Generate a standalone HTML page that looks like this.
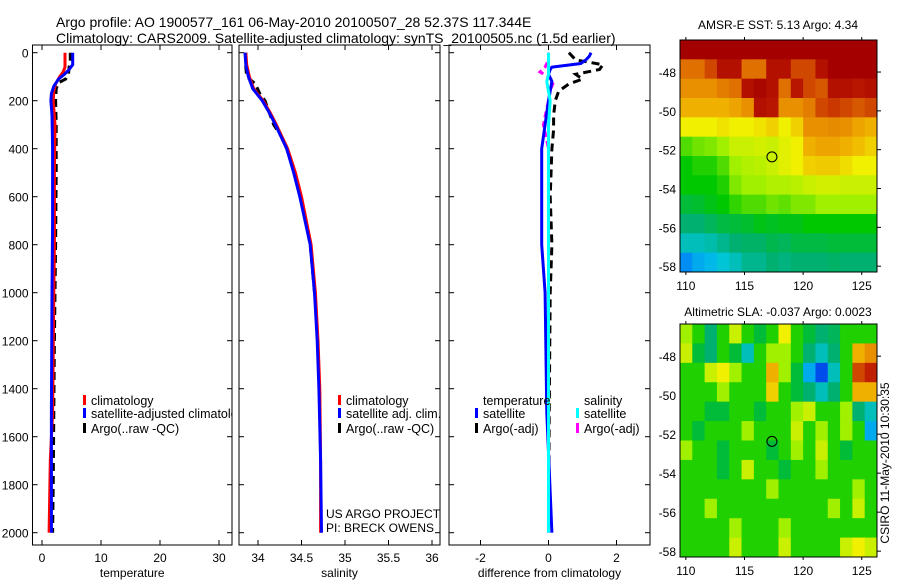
<!DOCTYPE html>
<html><head><meta charset="utf-8">
<style>
html,body{margin:0;padding:0;background:#fff;}
svg{display:block;font-family:"Liberation Sans",sans-serif;}
text{fill:#000;}
</style></head>
<body>
<svg id="fig" width="900" height="580" viewBox="0 0 900 580">
<text x="56" y="27" font-size="14">Argo profile: AO 1900577_161 06-May-2010 20100507_28 52.37S 117.344E</text>
<text x="56" y="43" font-size="14">Climatology: CARS2009. Satellite-adjusted climatology: synTS_20100505.nc (1.5d earlier)</text>
<text x="778" y="29" font-size="12" text-anchor="middle">AMSR-E SST: 5.13 Argo: 4.34</text>
<text x="778" y="316" font-size="12" text-anchor="middle">Altimetric SLA: -0.037 Argo: 0.0023</text>
<text transform="translate(889,463) rotate(-90)" font-size="12" text-anchor="middle">CSIRO 11-May-2010 10:30:35</text>
<g id="g"></g>
</svg>
<script>
// ---------- data ----------
const depthTicks=[0,200,400,600,800,1000,1200,1400,1600,1800,2000];
const tempTicks=[0,10,20,30];
const salTicks=[34,34.5,35,35.5,36];
const salTickLabels=["34","34.5","35","35.5","36"];
const diffTicks=[-2,0,2];
const latTicks=[-48,-50,-52,-54,-56,-58];
const lonTicks=[110,115,120,125];

const climDepth=[0,20,60,80,100,130,160,200,300,500,800,1000,1500,1700,2000];
const climTemp=[3.9,3.9,3.9,3.6,3.0,2.3,2.0,1.9,2.2,2.1,2.1,2.0,1.8,1.4,1.2];
const satDepth=[0,20,50,70,90,110,140,170,200,260,400,700,1000,1500,2000];
const satTemp=[5.2,5.2,5.2,4.6,3.8,2.8,2.0,1.6,1.5,1.7,1.8,1.8,1.7,1.6,1.6];
const argoDepth=[0,30,60,90,110,125,150,200,300,500,800,1000,1200,1500,1800,2000];
const argoTemp=[4.8,4.8,4.6,4.5,4.0,2.8,2.4,2.3,2.4,2.4,2.3,2.2,2.1,2.0,1.9,1.8];

const salDepth=[0,50,100,150,200,250,300,400,500,600,800,1000,1200,1400,1700,2000];
const climSal=[33.86,33.87,33.9,33.95,34.06,34.14,34.21,34.34,34.43,34.5,34.61,34.66,34.69,34.71,34.72,34.72];
const satSal=[33.85,33.86,33.89,33.94,34.05,34.13,34.2,34.33,34.41,34.48,34.6,34.65,34.68,34.7,34.72,34.73];
const argoSalDepth=[0,60,100,130,170,200,250,300,350,400,500,600,800,1000];
const argoSal=[33.86,33.86,33.87,33.97,34.02,34.08,34.13,34.18,34.27,34.33,34.42,34.49,34.6,34.65];

const diffDepth=[0,15,30,45,60,70,90,120,200,300,400,600,800,1000,1500,2000];
const satTempDiff=[1.25,1.2,1.1,0.95,0.1,0.05,0.0,0.1,0.0,-0.1,-0.2,-0.2,-0.2,-0.1,-0.05,0.1];
const satSalDiff=[0.0,0.0,0.0,0.0,0.0,0.0,0.0,-0.05,0.05,0.0,0.0,0.0,0.0,0.0,0.0,0.0];
const argoDiffDepth=[0,15,30,50,70,90,110,130,160,200,260,320,400,600,800,1000,1500,2000];
const argoTempDiff=[0.6,0.7,0.8,1.6,1.5,0.8,1.0,0.6,0.3,0.2,0.15,0.15,0.1,0.05,0.1,0.05,0.02,0.0];
const argoSalDiffDepth=[0,30,60,80,100,120,160,200,300,400,600,1000,2000];
const argoSalDiff=[0.0,0.0,-0.1,-0.25,0.0,0.15,0.05,0.0,-0.15,0.0,0.0,0.0,0.0];

const sstGrid=[
[10,10,10,10,10,10,10,10,10,10,10,10,10,10,10,10],
[8,8,8.5,9.5,9.5,8,8,9.5,9.5,8.5,8.5,9.5,10,10,10,10],
[7.5,7.5,7.5,7.8,8,9.5,9.8,9.5,8,9.3,8.5,8.3,9.5,9.5,9.3,9.5],
[7,7,7,7,7.2,7.5,9.5,9.3,7.5,7.5,7.8,8.5,8.7,8.5,8.3,8.5],
[6,6,6,6.2,6,6,6.2,6.5,6,6.5,7.5,7.5,7.6,7.5,7.2,7],
[4.5,4.7,4.8,5,5.5,5.5,5.6,5.5,5.8,6,7,7.2,7.2,7,6.8,6.5],
[4,4.2,4.2,4.5,5,5.2,5.3,5.5,5.8,6,6.5,6.6,6.6,6.3,6,6],
[4,4,4,4.2,4.8,5,5,5.2,5.2,5.3,5.5,5.6,5.6,5.5,5.5,5.5],
[3.5,3.6,3.8,4,4.3,4.5,4.5,4.7,4.6,4.8,4.8,5,5,5,5,5],
[3,3,3.2,3.4,3.5,3.6,3.8,3.7,3.8,3.8,4,4,4,4,4,4],
[2.5,2.5,2.6,2.8,3,3.1,3.1,3.3,3.2,3.4,3.4,3.4,3.5,3.5,3.5,3.5],
[1.8,2,2.1,2.3,2.5,2.8,2.8,3,2.9,3,3,3,3.1,3,3,3]];
const slaGrid=[
[5,4.3,3,4,5.5,4.3,3.5,4.3,6,4.3,3.5,3,3.2,4.3,4,4.3],
[5.5,3.5,3,4.3,3.5,2.5,4,5,5,4,3,2.5,3,4.3,7,7.5],
[4.5,4.3,5.5,6,5,4,4.3,7,5,3.5,2,1.2,2.5,4.3,8.5,9],
[4.3,4,4.3,5,4.3,4.3,4.3,6.5,4.3,3.5,3,2.5,3,4.3,7,7],
[4.3,4,3.5,3.5,4,4.3,3.5,4.3,4.3,5,5.5,4.3,4.3,5,3,2.5],
[4,3.5,4.3,4.3,4,5,4.3,4,4.3,5.5,4,5,4.3,5,4,2],
[5,4.3,4.3,3.5,4,4.3,4,3.5,4,5,4.3,5.5,4,3.5,4.3,4],
[4.3,4.3,4,3.5,4.3,5.5,4.3,4,3.5,4.3,4,5,4.3,4,4.3,4.3],
[4.3,4,4.3,4.3,4,4.3,4.3,5,4.3,4,4.3,4.3,4,4.3,5,4.3],
[4.3,4.3,5,4,4.3,4.3,4,4.3,4,4.3,4,4.3,5,4.3,5.5,4.3],
[4.3,4,4.3,4.3,5,4.3,4.3,4,5,4.3,4.3,4,4.3,4.3,4.3,4.5],
[4.3,4.3,4,4.3,5.5,4.3,4,4.3,5.5,4.3,4.3,4,4.3,5.5,6,5.5]];
const floatLon=[117.34];
const floatLat=[-52.37];

// ---------- helpers ----------
const NS="http://www.w3.org/2000/svg";
const G=document.getElementById('g');
function mk(tag,attrs,parent){const e=document.createElementNS(NS,tag);for(const k in attrs)e.setAttribute(k,attrs[k]);(parent||G).appendChild(e);return e;}
const yD=d=>52.7+d*0.24;
const PTOP=45,PBOT=545;
const panels=[
 {x0:32.5,x1:232,f:v=>42+5.9*v,ticks:tempTicks,labels:tempTicks.map(String),lab:"temperature",name:"temperature-panel"},
 {x0:239,x1:440,f:v=>258+87*(v-34),ticks:salTicks,labels:salTickLabels,lab:"salinity",name:"salinity-panel"},
 {x0:449,x1:650,f:v=>548.5+34*v,ticks:diffTicks,labels:diffTicks.map(String),lab:"difference from climatology",name:"difference-panel"}];

function line(xs,ds,fx,color,w,dash,name,clip){
  const p=xs.map((v,i)=>fx(v).toFixed(1)+","+yD(ds[i]).toFixed(1)).join(" ");
  const e=mk('polyline',{points:p,fill:"none",stroke:color,"stroke-width":w,"clip-path":clip});
  if(dash)e.setAttribute('stroke-dasharray',dash);
  
  
}

panels.forEach((P,pi)=>{
  const cp=mk('clipPath',{id:'cp'+pi});
  mk('rect',{x:P.x0,y:PTOP,width:P.x1-P.x0,height:PBOT-PTOP},cp);
  const r=mk('rect',{x:P.x0,y:PTOP,width:P.x1-P.x0,height:PBOT-PTOP,fill:"none",stroke:"#000","stroke-width":1});
  
  
  depthTicks.forEach(d=>{
    const y=yD(d);
    mk('line',{x1:P.x0,x2:P.x0+5,y1:y,y2:y,stroke:"#000"});
    mk('line',{x1:P.x1-5,x2:P.x1,y1:y,y2:y,stroke:"#000"});
    if(pi===0){const t=mk('text',{x:P.x0-4,y:y+5,"font-size":12,"text-anchor":"end"});t.textContent=d;
      
      }
  });
  P.ticks.forEach((v,i)=>{
    const x=P.f(v);
    mk('line',{x1:x,x2:x,y1:PBOT,y2:PBOT-5,stroke:"#000"});
    mk('line',{x1:x,x2:x,y1:PTOP,y2:PTOP+5,stroke:"#000"});
    const t=mk('text',{x:x,y:562,"font-size":12,"text-anchor":"middle"});t.textContent=P.labels[i];
    
    
  });
  const t=mk('text',{x:(P.x0+P.x1)/2,y:577,"font-size":12,"text-anchor":"middle"});t.textContent=P.lab;
  
  
});
const f0=panels[0].f,f1=panels[1].f,f2=panels[2].f;
line(argoTemp,argoDepth,f0,"#000",3,"8,5","argo-temperature-line","url(#cp0)");
line(climTemp,climDepth,f0,"#f00",3,null,"climatology-temperature-line","url(#cp0)");
line(satTemp,satDepth,f0,"#00f",3,null,"satellite-temperature-line","url(#cp0)");
line(argoSal,argoSalDepth,f1,"#000",3,"8,5","argo-salinity-line","url(#cp1)");
line(climSal,salDepth,f1,"#f00",3,null,"climatology-salinity-line","url(#cp1)");
line(satSal,salDepth,f1,"#00f",3,null,"satellite-salinity-line","url(#cp1)");
line(argoTempDiff,argoDiffDepth,f2,"#000",3,"8,5","argo-temperature-diff-line","url(#cp2)");
line(argoSalDiff,argoSalDiffDepth,f2,"#f0f",3,"6,4","argo-salinity-diff-line","url(#cp2)");
line(satTempDiff,diffDepth,f2,"#00f",3,null,"satellite-temperature-diff-line","url(#cp2)");
line(satSalDiff,diffDepth,f2,"#0ff",3,null,"satellite-salinity-diff-line","url(#cp2)");

// legends
function leg(x,y,color,label,clip){
  if(color)mk('rect',{x:x,y:y-10,width:3,height:10,fill:color});
  const t=mk('text',{x:x+8,y:y,"font-size":12.5,"clip-path":clip||""});t.textContent=label;
  
  
}
leg(83,405,"#f00","climatology","url(#cp0)");
leg(83,418,"#00f","satellite-adjusted climatology","url(#cp0)");
leg(83,433,"#000","Argo(..raw -QC)","url(#cp0)");
leg(338,405,"#f00","climatology");
leg(338,418,"#00f","satellite adj. clim.");
leg(338,433,"#000","Argo(..raw -QC)");
leg(475,405,null,"temperature");
leg(475,418,"#00f","satellite");
leg(475,433,"#000","Argo(-adj)");
leg(576,405,null,"salinity");
leg(576,418,"#0ff","satellite");
leg(576,433,"#f0f","Argo(-adj)");
const c1=mk('text',{x:326,y:518,"font-size":12});c1.textContent="US ARGO PROJECT";


const c2=mk('text',{x:326,y:532,"font-size":12});c2.textContent="PI: BRECK OWENS";



// ---------- maps ----------
const stops=[[0,[0,0,160]],[1.5,[0,96,255]],[2.2,[0,200,230]],[3,[0,176,112]],[4,[0,200,0]],[5,[160,240,0]],[6,[240,240,0]],[7,[240,176,0]],[8,[224,112,0]],[9,[192,32,0]],[10,[165,0,0]]];
function cmap(v){
  for(let i=1;i<stops.length;i++){if(v<=stops[i][0]){const a=stops[i-1],b=stops[i],t=(v-a[0])/(b[0]-a[0]);
    return "rgb("+a[1].map((c,k)=>Math.round(c+(b[1][k]-c)*t)).join(",")+")";}}
  return "rgb(165,0,0)";
}
function drawMap(grid,y0,y1,name,isSla){
  const x0=680,x1=877,lon0=109.5,lon1=126.3,lat0=-46.35,lat1=-58.3;
  const fx=l=>x0+(l-lon0)*(x1-x0)/(lon1-lon0);
  const fy=l=>y0+(l-lat0)*(y1-y0)/(lat1-lat0);
  const rows=grid.length,cols=grid[0].length;
  const dlon=(lon1-lon0)/cols,dlat=(lat1-lat0)/rows;
  grid.forEach((row,r)=>row.forEach((v,c)=>{
    const xa=fx(lon0+c*dlon),xb=fx(lon0+(c+1)*dlon),ya=fy(lat0+r*dlat),yb=fy(lat0+(r+1)*dlat);
    const e=mk('rect',{x:xa.toFixed(2),y:ya.toFixed(2),width:(xb-xa+0.5).toFixed(2),height:(yb-ya+0.5).toFixed(2),fill:cmap(isSla&&v>=4&&v<4.6?4.2:v)});
    
    
  }));
  const fr=mk('rect',{x:x0,y:y0,width:x1-x0,height:y1-y0,fill:"none",stroke:"#000"});
  
  
  latTicks.forEach(l=>{const y=fy(l);
    mk('line',{x1:x1,x2:x1+4,y1:y,y2:y,stroke:"#000"});
    const t=mk('text',{x:x0-4,y:y+5,"font-size":12,"text-anchor":"end"});t.textContent=l;
    
    });
  lonTicks.forEach(l=>{const x=fx(l);
    mk('line',{x1:x,x2:x,y1:y0,y2:y0-3,stroke:"#000"});
    mk('line',{x1:x,x2:x,y1:y1,y2:y1+3,stroke:"#000"});
    const t=mk('text',{x:x,y:y1+18,"font-size":12,"text-anchor":"middle"});t.textContent=l;
    
    });
  const m=mk('circle',{cx:fx(floatLon[0]),cy:fy(floatLat[0]),r:5,fill:"none",stroke:"#000"});
  
  
}
drawMap(sstGrid,40,272,"sst-map",false);
drawMap(slaGrid,324,557,"sla-map",true);
</script>
</body></html>
